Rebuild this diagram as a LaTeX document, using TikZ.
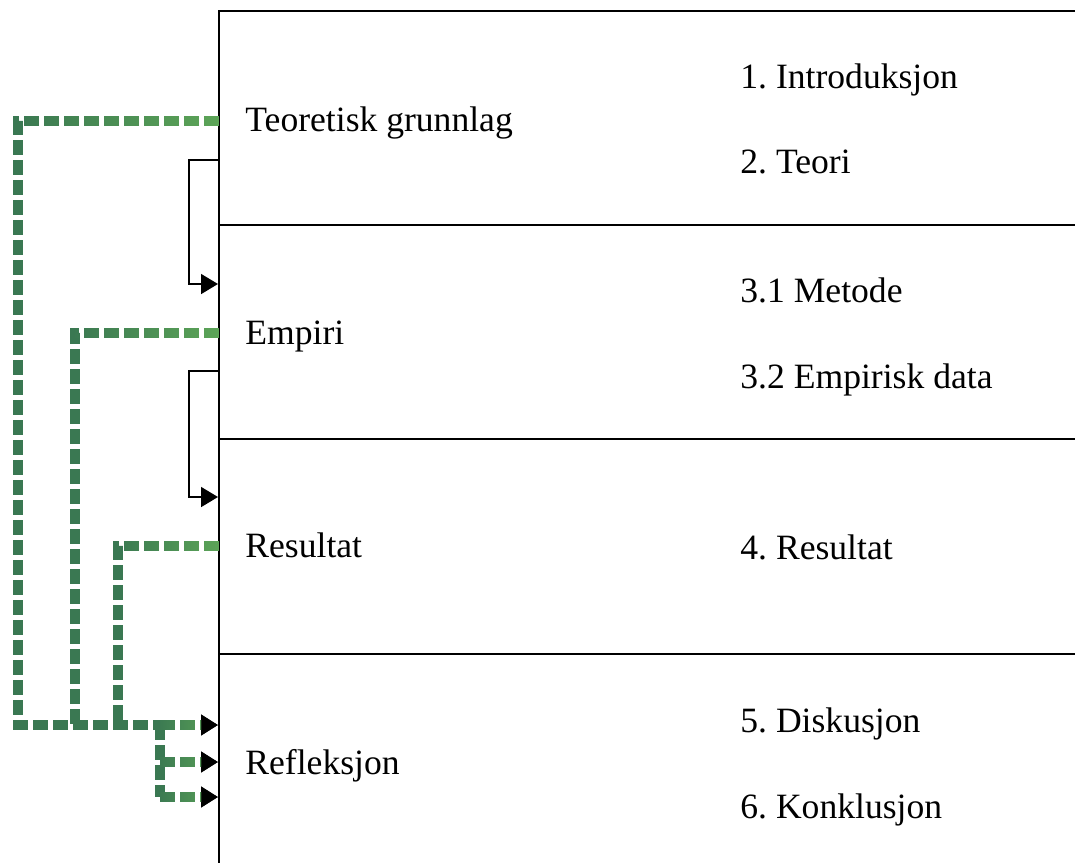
\documentclass[tikz,border=0pt]{standalone}
\usepackage{fontspec}
\setmainfont{Liberation Serif}
\usetikzlibrary{arrows.meta,positioning,calc,fadings}
\definecolor{flowDark}{RGB}{58,120,82}
\definecolor{flowLight}{RGB}{94,166,88}
\tikzfading[name=flowfade, left color=transparent!100, right color=transparent!0]
\frenchspacing

\begin{document}
\begin{tikzpicture}[x=0.5pt, y=-0.5pt, line join=miter,
    lbl/.style={anchor=base west, inner sep=0pt, font=\fontsize{17.8}{22}\selectfont},
    flow/.style={draw=flowDark, line width=5pt, dash pattern=on 7.5pt off 2.5pt},
    flowlight/.style={flow, draw=flowLight, path fading=flowfade},
    seq/.style={draw=black, line width=0.8pt},
    tipper/.style={-{Triangle[length=8.5pt, width=10pt, color=black]}}]
        \useasboundingbox (0,0) rectangle (1075,862);
        \clip (0,0) rectangle (1075,862);
        % the four parts
        \draw[line width=1pt] (219,880) -- (219,11) -- (1090,11);
        \draw[line width=1pt] (219,225) -- (1090,225);
        \draw[line width=1pt] (219,439) -- (1090,439);
        \draw[line width=1pt] (219,654) -- (1090,654);
        \coordinate (edge) at (219,0);
        % part titles
        \node[lbl] (grunnlag) at (245,131) {Teoretisk grunnlag};
        \node[lbl] (empiri) at (245,344) {Empiri};
        \node[lbl] (resultat) at (245,557) {Resultat};
        \node[lbl] (refleksjon) at (245,774) {Refleksjon};
        % chapters
        \node[lbl] (ch1) at (740,88) {1. Introduksjon};
        \node[lbl] (ch2) at (740,173) {2. Teori};
        \node[lbl] (ch31) at (740,302) {3.1 Metode};
        \node[lbl] (ch32) at (740,388) {3.2 Empirisk data};
        \node[lbl] (ch4) at (740,559) {4. Resultat};
        \node[lbl] (ch5) at (740,732) {5. Diskusjon};
        \node[lbl] (ch6) at (740,818) {6. Konklusjon};
        % ends on the left edge
        \coordinate (grunnlagOut) at ($(grunnlag.base west -| edge)+(0,-10)$);
        \coordinate (empiriOut) at ($(empiri.base west -| edge)+(0,-11)$);
        \coordinate (resultatOut) at ($(resultat.base west -| edge)+(0,-11)$);
        \coordinate (reflA) at (218,725);
        \coordinate (reflB) at (218,762);
        \coordinate (reflC) at (218,797);
        \coordinate (fork) at (160,725);
        % sequence arrows
        \draw[seq, tipper] (219,160) -| (189,284) -- (218,284);
        \draw[seq, tipper] (219,371) -| (189,497) -- (218,497);
        % feedback into Refleksjon
        \draw[flow] (grunnlagOut) -| (18,725) -- (fork);
        \draw[flowlight] (grunnlagOut) -- (18,121);
        \draw[flow] (empiriOut) -| (75,725);
        \draw[flowlight] (empiriOut) -- (75,333);
        \draw[flow] (resultatOut) -| (118,725);
        \draw[flowlight] (resultatOut) -- (118,546);
        \draw[flow] (fork) -- (160,797);
        \draw[flow, tipper] (fork) -- (reflA);
        \draw[flow, tipper] (160,762) -- (reflB);
        \draw[flow, tipper] (160,797) -- (reflC);
        \draw[flowlight, tipper] (fork) -- (reflA);
        \draw[flowlight, tipper] (160,762) -- (reflB);
        \draw[flowlight, tipper] (160,797) -- (reflC);
\end{tikzpicture}
\end{document}
